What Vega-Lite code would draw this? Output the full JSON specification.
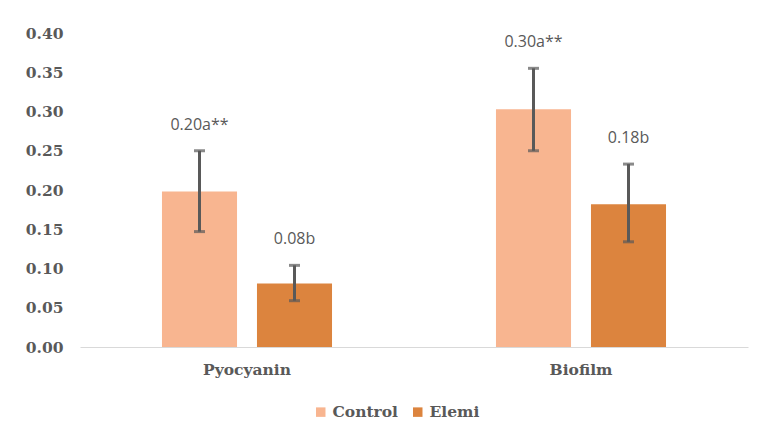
{
  "$schema": "https://vega.github.io/schema/vega-lite/v6.json",
  "autosize": "none",
  "width": 668,
  "height": 314,
  "padding": {"left": 80, "top": 33, "right": 13, "bottom": 84},
  "background": "white",
  "data": {
    "values": [
      {"test": "Pyocyanin", "group": "Control", "value": 0.198, "lower": 0.147, "upper": 0.25, "label": "0.20a**"},
      {"test": "Pyocyanin", "group": "Elemi", "value": 0.081, "lower": 0.059, "upper": 0.104, "label": "0.08b"},
      {"test": "Biofilm", "group": "Control", "value": 0.303, "lower": 0.25, "upper": 0.355, "label": "0.30a**"},
      {"test": "Biofilm", "group": "Elemi", "value": 0.182, "lower": 0.134, "upper": 0.233, "label": "0.18b"}
    ]
  },
  "encoding": {
    "x": {
      "field": "test", "type": "nominal", "sort": ["Pyocyanin", "Biofilm"],
      "scale": {"paddingInner": 0, "paddingOuter": 0},
      "axis": {"title": null, "labelAngle": 0, "ticks": false, "domainColor": "#d9d9d9", "domainWidth": 1,
               "labelFont": "DejaVu Serif", "labelFontWeight": "bold", "labelFontSize": 15.5, "labelColor": "#595959", "labelPadding": 15}
    },
    "xOffset": {"field": "group", "type": "nominal", "sort": ["Control", "Elemi"],
      "scale": {"paddingInner": 0.21, "paddingOuter": 0.863}}
  },
  "layer": [
    {
      "mark": {"type": "bar"},
      "encoding": {
        "y": {"field": "value", "type": "quantitative",
          "scale": {"domain": [0, 0.4], "nice": false},
          "axis": {"title": null, "grid": false, "domain": false, "ticks": false, "tickCount": 8, "format": ".2f",
                   "labelFont": "DejaVu Serif", "labelFontWeight": "bold", "labelFontSize": 15.5, "labelColor": "#595959", "labelPadding": 17}},
        "color": {"field": "group", "type": "nominal", "sort": ["Control", "Elemi"],
          "scale": {"domain": ["Control", "Elemi"], "range": ["#F8B590", "#DC843E"]},
          "legend": {"title": null, "orient": "none", "legendX": 233, "legendY": 371, "direction": "horizontal",
                     "symbolType": "square", "symbolSize": 90, "symbolStrokeWidth": 0, "columnPadding": 12,
                     "labelFont": "DejaVu Serif", "labelFontWeight": "bold", "labelFontSize": 15.5, "labelColor": "#595959", "labelOffset": 4}}
      }
    },
    {
      "mark": {"type": "rule", "color": "#595959", "strokeWidth": 3},
      "encoding": {
        "y": {"field": "lower", "type": "quantitative"},
        "y2": {"field": "upper"}
      }
    },
    {
      "mark": {"type": "tick", "color": "#595959", "thickness": 3, "size": 11, "orient": "horizontal"},
      "encoding": {"y": {"field": "upper", "type": "quantitative"}}
    },
    {
      "mark": {"type": "tick", "color": "#595959", "thickness": 3, "size": 11, "orient": "horizontal"},
      "encoding": {"y": {"field": "lower", "type": "quantitative"}}
    },
    {
      "mark": {"type": "text", "dy": -26, "baseline": "middle", "font": "Open Sans", "fontSize": 16, "color": "#595959"},
      "encoding": {
        "y": {"field": "upper", "type": "quantitative"},
        "text": {"field": "label"}
      }
    }
  ],
  "config": {"view": {"stroke": null}}
}
